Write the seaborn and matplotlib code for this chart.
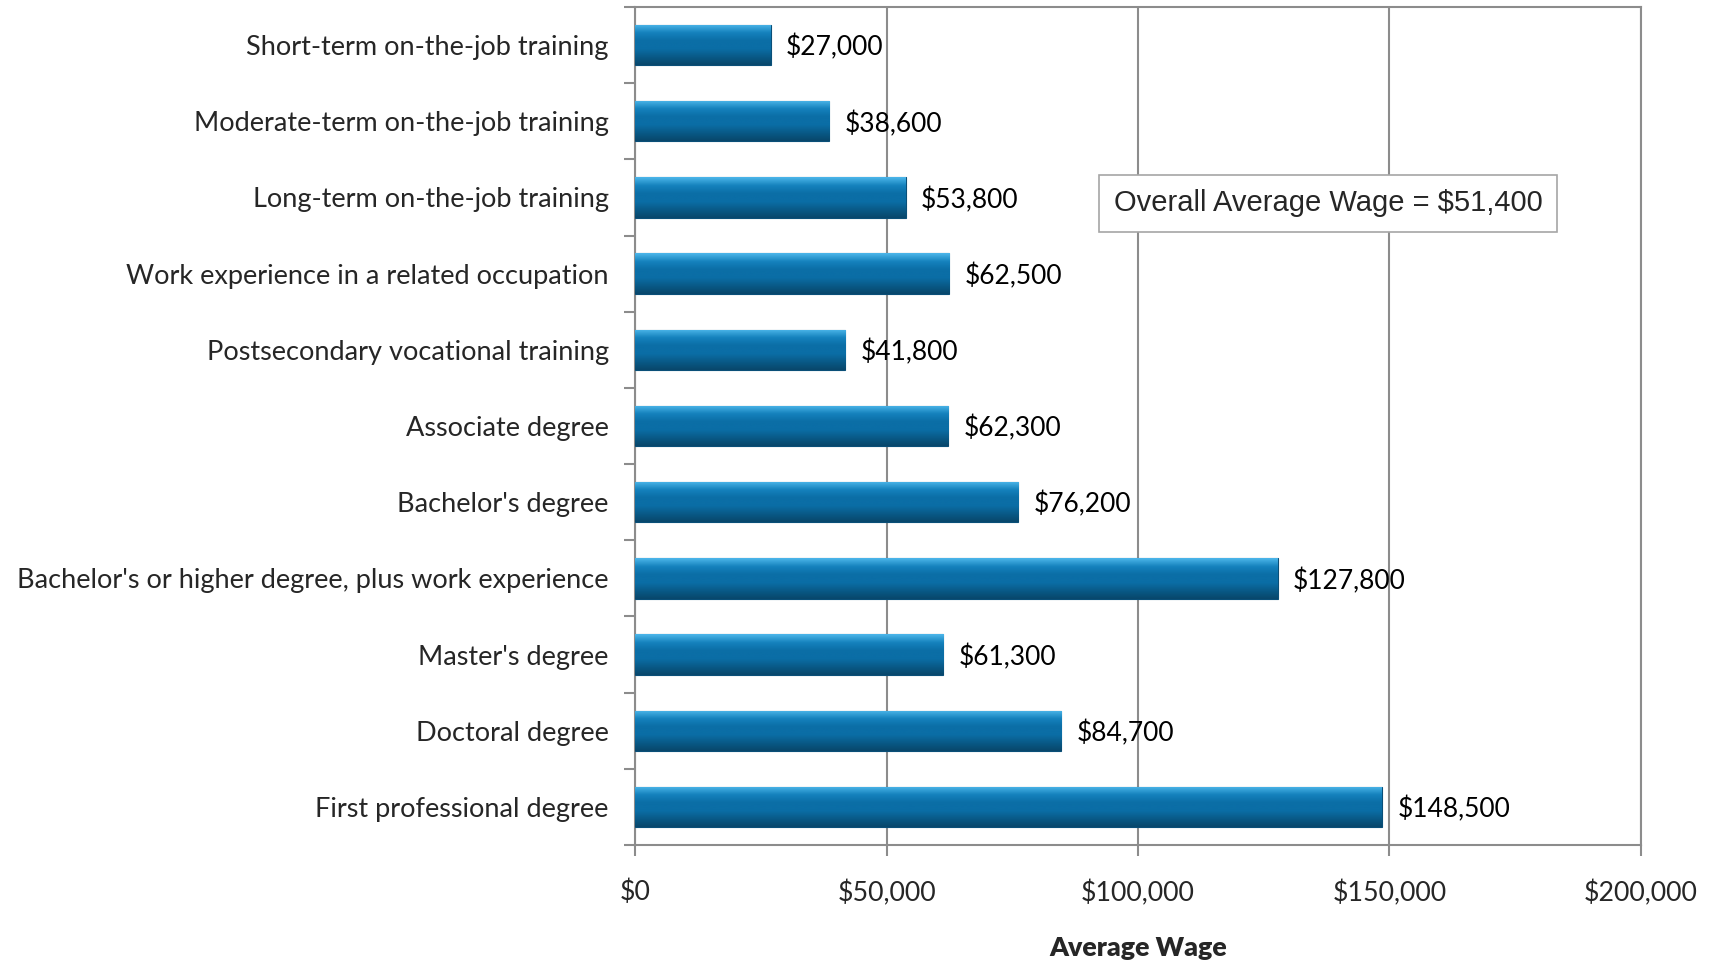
import numpy as np
import matplotlib
matplotlib.use("Agg")
import matplotlib.pyplot as plt
import seaborn as sns
from matplotlib.colors import LinearSegmentedColormap
from matplotlib.ticker import FuncFormatter, FixedLocator

# Average wage by education / training category
categories = [
    "Short-term on-the-job training",
    "Moderate-term on-the-job training",
    "Long-term on-the-job training",
    "Work experience in a related occupation",
    "Postsecondary vocational training",
    "Associate degree",
    "Bachelor's degree",
    "Bachelor's or higher degree, plus work experience",
    "Master's degree",
    "Doctoral degree",
    "First professional degree",
]
wages = [27000, 38600, 53800, 62500, 41800, 62300, 76200, 127800, 61300, 84700, 148500]
x_ticks = [0, 50000, 100000, 150000, 200000]
overall_note = "Overall Average Wage = $51,400"

sns.set_theme(style="white")
plt.rcParams["font.family"] = ["Lato", "DejaVu Sans"]

grid_col = "#8c8c8c"
bar_col = "#0b6ea6"

fig = plt.figure(figsize=(17.14, 9.63), dpi=100)
ax = fig.add_axes([0.3705, 0.1225, 0.5869, 0.8702])

sns.barplot(x=wages, y=categories, orient="h", color=bar_col, saturation=1,
            width=0.53, edgecolor="#0a4f78", linewidth=0.8, ax=ax, zorder=3)

# bevel-like vertical gradient on each bar
grad = LinearSegmentedColormap.from_list(
    "bev", ["#4cb6ea", "#1582bd", "#0b6ea6", "#0b6ea6", "#095a88", "#08476b"])
g = np.linspace(0, 1, 64).reshape(-1, 1)
for p in list(ax.patches):
    x0, y0, w, h = p.get_x(), p.get_y(), p.get_width(), p.get_height()
    im = ax.imshow(g, cmap=grad, aspect="auto", extent=(x0, x0 + w, y0 + h, y0),
                   zorder=4, interpolation="bicubic")
    im.set_clip_path(p)

ax.set_xlim(0, 200000)
ax.set_ylim(len(categories) - 0.5, -0.5)

ax.set_xticks(x_ticks)
ax.xaxis.set_major_formatter(FuncFormatter(lambda v, _: f"${v:,.0f}"))
ax.grid(axis="x", color=grid_col, linewidth=1.5, zorder=0)
ax.set_axisbelow(True)

for s in ax.spines.values():
    s.set_visible(True)
    s.set_color(grid_col)
    s.set_linewidth(1.5)

# y tick marks sit between categories
ax.yaxis.set_minor_locator(FixedLocator(np.arange(-0.5, len(categories), 1.0)))
ax.tick_params(axis="y", which="minor", length=8, width=1.5, color=grid_col, left=True)
ax.tick_params(axis="y", which="major", length=0, pad=19, labelsize=19.5)
ax.tick_params(axis="x", which="major", length=8, width=1.5, color=grid_col,
               bottom=True, pad=17, labelsize=19.3)

labels = ax.bar_label(ax.containers[0], labels=[f"${v:,.0f}" for v in wages],
                      padding=11, fontsize=19, color="black")
for t in labels:
    t.set_va("center_baseline")

ax.set_ylabel("")
ax.set_xlabel("Average Wage", fontsize=19.3, fontweight="heavy", labelpad=22)

ax.text(0.689, 0.766, overall_note, transform=ax.transAxes, ha="center", va="center",
        fontsize=21, family=["Liberation Sans", "DejaVu Sans"], zorder=6,
        bbox=dict(boxstyle="square,pad=0.5", facecolor="white", edgecolor="#a6a6a6",
                  linewidth=1.2))

fig.savefig("out.png", dpi=100)
